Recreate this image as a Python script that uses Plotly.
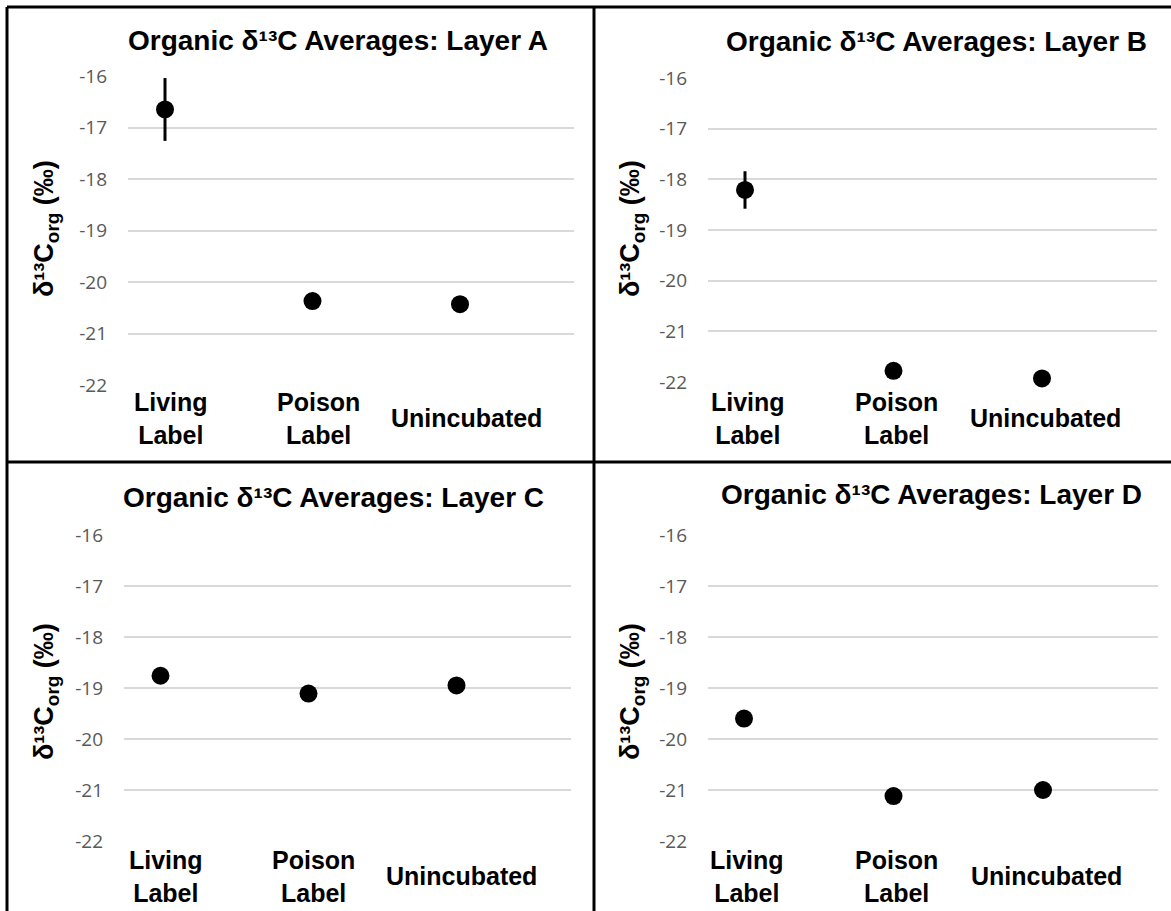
import plotly.graph_objects as go

W, H = 1171, 911

categories = ["Living Label", "Poison Label", "Unincubated"]
category_text = ["Living<br>Label", "Poison<br>Label", "Unincubated"]
layers = ["A", "B", "C", "D"]

layer_a = [-16.65, -20.37, -20.43]
layer_b = [-18.21, -21.78, -21.93]
layer_c = [-18.76, -19.11, -18.95]
layer_d = [-19.60, -21.12, -21.00]

err_a = [0.61, 0, 0]
err_b = [0.37, 0, 0]
err_c = [0, 0, 0]
err_d = [0, 0, 0]

y_ticks = [-22, -21, -20, -19, -18, -17, -16]
y_tick_labels = ["-22", "-21", "-20", "-19", "-18", "-17", "-16"]
y_range = [-22, -16]

values = [layer_a, layer_b, layer_c, layer_d]
errors = [err_a, err_b, err_c, err_d]

# panel geometry in pixels: grid left/right, x of first category, spacing, y of -16, y of -22
panels = [
    dict(gl=128, gr=574, p0=165, s=147.5, yt=76, yb=385, tx=338, ty=40, ax=46, ay=229, cy=418, lx=6),
    dict(gl=708, gr=1157, p0=745, s=148.5, yt=78, yb=382, tx=936, ty=42, ax=632, ay=229, cy=418, lx=3),
    dict(gl=124, gr=571, p0=160.5, s=148, yt=535, yb=841, tx=333, ty=497, ax=46, ay=692, cy=876, lx=5),
    dict(gl=708, gr=1158, p0=744, s=149.5, yt=535, yb=841, tx=931, ty=494, ax=632, ay=692, cy=876, lx=3),
]

fig = go.Figure()
annotations = []
xs = list(range(len(categories)))

for i, (lay, vals, errs, g) in enumerate(zip(layers, values, errors, panels)):
    n = "" if i == 0 else str(i + 1)
    xa, ya = "x" + n, "y" + n
    fig.add_trace(go.Scatter(
        x=xs, y=vals, mode="markers", xaxis=xa, yaxis=ya, cliponaxis=False,
        marker=dict(size=18, color="black"),
        error_y=dict(type="data", array=errs, visible=True, color="black", thickness=3, width=0),
        showlegend=False, hoverinfo="y",
    ))
    xr = [(g["gl"] - g["p0"]) / g["s"], (g["gr"] - g["p0"]) / g["s"]]
    fig.update_layout(**{
        "xaxis" + n: dict(domain=[g["gl"] / W, g["gr"] / W], range=xr, showgrid=False, automargin=False,
                          zeroline=False, showticklabels=False, showline=False, anchor=ya, fixedrange=True),
        "yaxis" + n: dict(domain=[1 - g["yb"] / H, 1 - g["yt"] / H], range=y_range, tickvals=y_ticks,
                          ticktext=y_tick_labels, automargin=False,
                          showgrid=True, gridcolor="#d9d9d9", gridwidth=1.5, zeroline=False,
                          showline=False, anchor=xa, ticklabelstandoff=20,
                          tickfont=dict(family="Open Sans", size=19, color="#595959"), fixedrange=True),
    })
    annotations.append(dict(
        text="<b>Organic δ¹³C Averages: Layer " + lay + "</b>",
        xref="paper", yref="paper", x=g["tx"] / W, y=1 - g["ty"] / H,
        xanchor="center", yanchor="middle", showarrow=False,
        font=dict(family="Liberation Sans", size=28, color="black"),
    ))
    annotations.append(dict(
        text="<b>δ¹³C<sub>org</sub> (‰)</b>",
        xref="paper", yref="paper", x=g["ax"] / W, y=1 - g["ay"] / H, textangle=-90,
        xanchor="center", yanchor="middle", showarrow=False,
        font=dict(family="Liberation Sans", size=27, color="black"),
    ))
    for j, ct in enumerate(category_text):
        annotations.append(dict(
            text="<b>" + ct + "</b>", xref=xa, yref="paper", x=xs[j], y=1 - g["cy"] / H,
            xanchor="center", yanchor="middle", showarrow=False, xshift=g["lx"],
            font=dict(family="Liberation Sans", size=25, color="black"),
        ))


def px(xp):
    return xp / W


def py(yp):
    return 1 - yp / H


shapes = [
    dict(type="line", xref="paper", yref="paper", x0=px(7), x1=px(7), y0=0, y1=py(7), line=dict(color="black", width=3)),
    dict(type="line", xref="paper", yref="paper", x0=px(7), x1=1, y0=py(7), y1=py(7), line=dict(color="black", width=3)),
    dict(type="line", xref="paper", yref="paper", x0=px(594), x1=px(594), y0=0, y1=py(7), line=dict(color="black", width=3)),
    dict(type="line", xref="paper", yref="paper", x0=px(7), x1=1, y0=py(462), y1=py(462), line=dict(color="black", width=3)),
]

fig.update_layout(
    width=W, height=H, margin=dict(l=0, r=0, t=0, b=0, autoexpand=False),
    paper_bgcolor="white", plot_bgcolor="white",
    annotations=annotations, shapes=shapes,
)

fig.write_html("out.html", config={"displayModeBar": False},
               post_script="document.body.style.margin='0';")
